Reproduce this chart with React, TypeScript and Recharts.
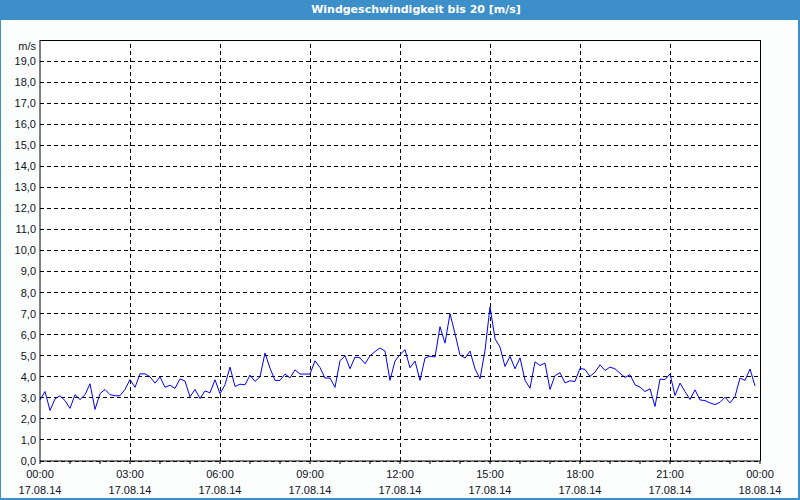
import React from 'react';
import { LineChart, Line, XAxis, YAxis, CartesianGrid, ReferenceLine } from 'recharts';

// Wind speed in m/s, one value every 10 minutes from 00:00 to 23:50 on 17.08.14
const speeds: number[] = [
  2.9, 3.3, 2.4, 2.95, 3.1, 2.87, 2.5, 3.15, 2.92, 3.15, 3.67, 2.45,
  3.2, 3.4, 3.15, 3.1, 3.1, 3.4, 3.87, 3.5, 4.14, 4.14, 4.0, 3.7,
  4.0, 3.5, 3.6, 3.45, 3.9, 3.8, 3.05, 3.4, 2.97, 3.33, 3.24, 3.86,
  3.2, 3.62, 4.46, 3.54, 3.65, 3.62, 4.08, 3.78, 4.0, 5.13, 4.41, 3.83,
  3.83, 4.13, 3.95, 4.33, 4.13, 4.13, 4.13, 4.76, 4.44, 3.94, 3.94, 3.5,
  4.76, 5.0, 4.38, 4.94, 4.9, 4.62, 5.0, 5.2, 5.37, 5.22, 3.83, 4.75,
  5.06, 5.29, 4.43, 4.75, 3.83, 4.89, 4.98, 4.94, 6.38, 5.6, 7.0, 6.05,
  5.03, 4.89, 5.22, 4.38, 3.9, 5.25, 7.32, 5.81, 5.41, 4.49, 4.97, 4.38,
  4.9, 3.83, 3.46, 4.71, 4.54, 4.65, 3.4, 4.06, 4.19, 3.71, 3.81, 3.78,
  4.4, 4.35, 4.02, 4.22, 4.57, 4.3, 4.46, 4.38, 4.17, 3.97, 4.1, 3.62,
  3.51, 3.3, 3.43, 2.59, 3.89, 3.87, 4.14, 3.11, 3.7, 3.3, 2.92, 3.38,
  2.9, 2.87, 2.76, 2.68, 2.79, 3.03, 2.76, 3.06, 3.94, 3.83, 4.37, 3.57,
];
const stepMinutes = 10;

// X axis: minutes since 17.08.14 00:00
const xMinorTicks: number[] = [
  0, 60, 120, 180, 240, 300, 360, 420, 480, 540, 600, 660, 720,
  780, 840, 900, 960, 1020, 1080, 1140, 1200, 1260, 1320, 1380, 1440,
];
const xMajorTicks: number[] = [0, 180, 360, 540, 720, 900, 1080, 1260, 1440];
const xTimeLabels: string[] = ['00:00', '03:00', '06:00', '09:00', '12:00', '15:00', '18:00', '21:00', '00:00'];
const xDateLabels: string[] = ['17.08.14', '17.08.14', '17.08.14', '17.08.14', '17.08.14', '17.08.14', '17.08.14', '17.08.14', '18.08.14'];

const yTicks: number[] = [0, 1, 2, 3, 4, 5, 6, 7, 8, 9, 10, 11, 12, 13, 14, 15, 16, 17, 18, 19];

const title = 'Windgeschwindigkeit bis 20 [m/s]';
const unit = 'm/s';

const data = speeds.map((v, i) => ({ t: i * stepMinutes, v }));

const FONT = '"Liberation Sans", Arial, sans-serif';
const TITLE_FONT = '"DejaVu Sans", "Liberation Sans", sans-serif';
const TEXT = '#111122';
const BLUE = '#3c8fc8';

const XTick = (props: any) => {
  const { x, y, payload } = props;
  const idx = xMajorTicks.indexOf(payload.value);
  if (idx < 0) return null;
  return (
    <g>
      <text x={x} y={y + 14} textAnchor="middle" fontSize={11} fontFamily={FONT} fill={TEXT}>
        {xTimeLabels[idx]}
      </text>
      <text x={x} y={y + 30} textAnchor="middle" fontSize={11} fontFamily={FONT} fill={TEXT}>
        {xDateLabels[idx]}
      </text>
    </g>
  );
};

export default function App() {
  return (
    <div style={{ position: 'absolute', left: 0, top: 0, width: 800, height: 500, background: '#fcfefd', overflow: 'hidden' }}>
      <div style={{ position: 'absolute', left: 0, top: 0 }}>
        <LineChart width={800} height={500} data={data} margin={{ top: 40, right: 40, left: 0, bottom: 0 }}>
          <CartesianGrid vertical={false} stroke="#000" strokeDasharray="4 3" shapeRendering="crispEdges" fill="#ffffff" />
          {xMajorTicks.slice(1, -1).map((t) => (
            <ReferenceLine key={t} x={t} stroke="#000" strokeDasharray="4 3" shapeRendering="crispEdges" />
          ))}
          <ReferenceLine y={20} stroke="#000" shapeRendering="crispEdges" />
          <ReferenceLine x={1440} stroke="#000" shapeRendering="crispEdges" />
          <XAxis
            dataKey="t"
            type="number"
            domain={[0, 1440]}
            ticks={xMinorTicks}
            interval={0}
            height={39}
            tickSize={3}
            tickMargin={0}
            stroke="#000"
            tickLine={{ stroke: '#000' }}
            axisLine={{ stroke: '#000' }}
            tick={<XTick />}
          />
          <YAxis
            type="number"
            domain={[0, 20]}
            ticks={yTicks}
            interval={0}
            width={40}
            tickSize={4}
            tickMargin={0}
            tickLine={false}
            axisLine={{ stroke: '#000' }}
            tick={{ fontSize: 11, fontFamily: FONT, fill: TEXT }}
            tickFormatter={(v: number) => v.toFixed(1).replace('.', ',')}
          />
          <Line type="linear" dataKey="v" stroke="#0000ff" strokeWidth={1} dot={false} isAnimationActive={false} />
        </LineChart>
      </div>
      <div
        style={{
          position: 'absolute', left: 0, top: 40, width: 36, textAlign: 'right',
          fontSize: 11, lineHeight: '13px', fontFamily: FONT, color: TEXT,
        }}
      >
        {unit}
      </div>
      <div style={{ position: 'absolute', left: 0, top: 0, width: 800, height: 20, background: BLUE }} />
      <div
        style={{
          position: 'absolute', left: 216, top: 0, width: 400, height: 20, lineHeight: '20px', textAlign: 'center',
          color: '#fff', fontWeight: 'bold', fontSize: 11, fontFamily: TITLE_FONT,
        }}
      >
        {title}
      </div>
      <div
        style={{
          position: 'absolute', left: 0, top: 0, width: 800, height: 500, boxSizing: 'border-box',
          borderLeft: `1px solid ${BLUE}`, borderTop: `1px solid ${BLUE}`,
          borderRight: `2px solid ${BLUE}`, borderBottom: `2px solid ${BLUE}`, pointerEvents: 'none',
        }}
      />
    </div>
  );
}
